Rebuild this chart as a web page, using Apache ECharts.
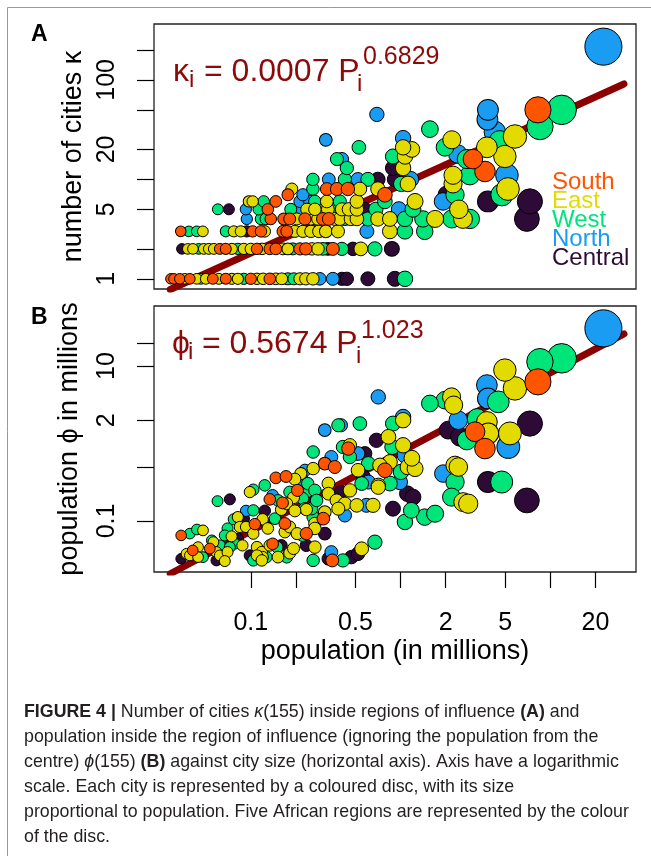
<!DOCTYPE html>
<html>
<head>
<meta charset="UTF-8">
<title>Figure 4</title>
<script type="text/javascript" src="https://cdn.jsdelivr.net/npm/echarts@6.0.0/dist/echarts.min.js"></script>
<style>
  html, body { margin: 0; padding: 0; background: #fff; }
</style>
</head>
<body>
<div id="main" style="width:651px;height:856px"></div>
<script type="text/javascript">
// regions and their colours
var regions = ['South', 'East', 'West', 'North', 'Central'];
var regionColors = ['#ff5500', '#e3da00', '#00e57a', '#1a9cf2', '#2d0b36'];

// panel A : [population in millions, number of cities kappa]
var southA = [[0.0293,1],[0.0307,1],[0.0336,1],[0.0392,1],[0.0558,1],[0.0681,1],[0.100,1],[0.134,1],
  [0.0622,2],[0.0681,2],[0.110,2],[0.134,2],[0.147,2],[0.213,2],[0.233,2],[0.353,2],
  [0.0341,3],[0.103,3],[0.117,3],[0.164,3],[0.174,3],
  [0.136,4],[0.166,4],[0.182,4],[0.230,4],[0.303,4],[0.332,4],
  [0.130,5],[0.147,6],[0.177,7],[0.786,7],
  [0.322,8],[0.376,8],[0.445,8],[3.66,12],[3.04,16],[8.26,50]];
var eastA = [[0.0363,1],[0.0436,1],[0.0501,1],[0.0612,1],[0.0748,1],[0.0820,1],[0.110,1],[0.121,1],[0.147,1],[0.161,1],[0.213,1],[0.233,1],[0.260,1],
  [0.0380,2],[0.0411,2],[0.0486,2],[0.0525,2],[0.0567,2],[0.0748,2],[0.0899,2],[0.100,2],[0.119,2],[0.164,2],[0.177,2],[0.256,2],[0.281,2],[0.543,2],
  [0.0479,3],[0.0771,3],[0.0858,3],[0.124,3],[0.197,3],[0.223,3],[0.252,3],[0.285,3],[0.317,3],[0.382,3],[0.849,3],
  [0.203,4],[0.252,4],[0.281,4],[0.364,4],[0.393,4],[0.466,4],[0.511,4],[0.706,4],[0.849,4],[1.70,4],[2.61,4],
  [0.237,5],[0.268,5],[0.327,5],[0.406,5],[0.452,5],[0.511,5],[2.45,5],
  [0.0971,6],[0.103,6],[0.322,6],[0.511,6],[1.25,6],
  [0.188,8],[0.535,8],[0.706,8],[5.21,8],[2.24,9],[1.12,9],[2.24,11],
  [1.04,13],[1.07,17],[4.97,17],[1.19,20],[1.04,21],[3.77,21],[2.20,25],[5.80,27]];
var westA = [[0.0464,1],[0.0899,1],[0.177,1],[0.194,1],[1.07,1],
  [0.0450,2],[0.0820,2],[0.191,2],[0.303,2],[0.406,2],[0.674,2],
  [0.0386,3],[0.0436,3],[0.0681,3],[1.07,3],[1.45,3],
  [0.117,4],[0.126,4],[0.605,4],[1.07,4],[1.41,4],[2.20,4],[2.90,4],
  [0.0603,5],[0.113,5],[0.185,5],[0.298,5],[0.359,5],[0.684,5],[1.21,5],
  [0.122,6],[0.268,6],[0.393,6],[0.786,6],[2.31,7],[4.75,7],[0.260,8],[1.01,9],
  [0.260,10],[0.425,10],[0.605,10],[2.90,11],[0.438,13],
  [0.376,16],[0.889,17],[2.77,16],[0.527,21],[1.98,21],[4.60,24],[1.57,32],[8.52,34],[11.9,50]];
var northA = [[0.289,1],[0.353,1],[0.596,3],[0.0941,4],[0.425,4],
  [0.0927,5],[0.209,5],[0.975,5],[0.213,6],[0.248,6],[1.92,6],[0.223,7],
  [0.332,10],[0.519,10],[1.17,10],[5.13,11],[0.406,16],[2.41,18],
  [0.317,25],[1.04,26],[4.26,30],[3.80,40],[0.695,45],[3.83,50],[22.6,216]];
var centralA = [[0.406,1],[0.438,1],[0.605,1],[0.916,1],
  [0.0347,2],[0.327,2],[0.481,2],[0.875,2],[0.0941,3],[6.97,4],
  [0.0714,5],[0.578,5],[3.83,6],[7.30,6],[2.04,7],[0.706,10],[0.916,10],[0.889,13]];

// panel B : [population in millions, population phi of the region in millions]
var southB = [[8.26,6.26],[3.14,1.42],[3.66,0.86],[0.786,0.451],
  [0.448,0.86],[0.312,0.55],[0.364,0.497],[0.235,0.0686],[0.305,0.107],[0.35,0.0309],
  [0.147,0.36],[0.172,0.375],[0.205,0.248],[0.134,0.19],[0.163,0.171],
  [0.1065,0.091],[0.169,0.0926],[0.0343,0.065],[0.041,0.0416],[0.0533,0.044],[0.14,0.0506]];
var eastB = [[5.80,5.15],[4.97,8.88],[5.37,1.35],[3.77,1.90],[3.85,1.35],
  [2.19,4.0],[2.26,3.13],[2.31,0.523],[2.43,0.497],[2.62,0.175],[2.83,0.167],
  [1.04,2.00],[0.83,1.22],[1.04,0.949],[0.849,0.577],[0.728,0.523],[1.12,0.497],[1.25,0.474],[0.71,0.288],[0.655,0.159],[1.19,0.645],
  [0.459,0.949],[0.52,0.451],[0.261,0.474],[0.459,0.248],[0.71,0.273],[0.33,0.304],[0.33,0.225],[0.374,0.184],[0.425,0.167],[0.384,0.144],[0.51,0.159],
  [0.268,0.0926],[0.312,0.13],[0.216,0.409],[0.268,0.0459],[0.55,0.0437],
  [0.197,0.346],[0.0986,0.236],[0.193,0.2],[0.235,0.14],[0.16,0.14],[0.174,0.167],[0.197,0.135],
  [0.082,0.112],[0.12,0.105],[0.0845,0.0836],[0.093,0.0836],[0.104,0.0686],[0.13,0.08],[0.169,0.072],[0.182,0.0836],[0.204,0.0686],[0.268,0.08],
  [0.048,0.0755],[0.0745,0.0632],[0.088,0.0483],[0.0563,0.0532],[0.0445,0.0459],[0.059,0.0396],[0.0372,0.0377],[0.0392,0.0358],[0.0445,0.0341],[0.0622,0.0358],[0.07,0.0396],[0.0671,0.0303],
  [0.11,0.0459],[0.1185,0.0396],[0.134,0.0483],[0.152,0.0341],[0.182,0.0385],[0.12,0.0341],[0.193,0.044],[0.11,0.0358],[0.1185,0.0309]];
var westB = [[11.9,12.6],[8.52,11.4],[4.49,3.45],[3.25,2.10],[2.77,1.10],[1.98,3.63],[1.57,3.29],[2.31,0.318],[2.19,0.203],[4.73,0.318],
  [1.45,0.112],[1.70,0.124],[1.07,0.097],[1.18,0.137],[0.674,0.0532],
  [0.89,1.81],[0.88,0.90],[1.005,0.429],[0.849,0.304],
  [0.535,1.81],[0.384,1.72],[0.412,0.902],[0.261,0.777],[0.459,0.67],[0.61,0.55],[0.55,0.304],
  [0.261,0.112],[0.255,0.144],[0.235,0.236],[0.24,0.304],[0.261,0.0309],[0.412,0.0309],
  [0.124,0.288],[0.104,0.253],[0.182,0.236],[0.268,0.248],[0.06,0.18],[0.152,0.184],[0.222,0.195],[0.275,0.184],[0.104,0.137],[0.23,0.144],
  [0.077,0.105],[0.145,0.107],[0.07,0.08],[0.222,0.065],
  [0.0392,0.0686],[0.0437,0.0775],[0.0671,0.065],[0.078,0.051],[0.0622,0.0483],[0.048,0.0341],[0.0725,0.0459],[0.15,0.0459],[0.174,0.0341],[0.127,0.0341],[0.104,0.0309],[0.055,0.056]];
var northB = [[22.6,30.7],[3.77,5.68],[3.83,3.82],[5.24,0.902],[2.43,2.00],[1.93,0.409],
  [0.71,4.0],[1.04,2.20],[1.069,0.705],[0.99,0.318],
  [0.40,1.72],[0.312,1.49],[0.52,0.742],[0.345,0.67],[0.61,0.318],[0.425,0.118],[0.592,0.159],
  [0.222,0.335],[0.23,0.451],[0.345,0.0396],[0.14,0.214],[0.093,0.135]];
var centralB = [[7.30,1.81],[2.08,1.49],[2.49,1.22],[3.83,0.318],[6.97,0.184],
  [0.89,0.144],[1.11,0.225],[1.21,0.203],[0.69,1.10],
  [0.578,0.742],[0.565,0.37],[0.40,0.236],
  [0.312,0.0686],[0.235,0.0483],[0.33,0.0325],[0.47,0.0341],[0.52,0.0377],
  [0.0725,0.19],[0.124,0.135],[0.090,0.107],[0.082,0.0592],[0.0343,0.0325],[0.059,0.0309],[0.16,0.0483],[0.0986,0.0358],[0.0563,0.0459]];

// fitted power laws, end points
var fitA = [[0.029,0.78],[31,91]];
var fitB = [[0.029,0.0208],[31,26]];

// ticks and labels
var xTicks = [0.1,0.2,0.5,1,2,5,10,20];
var xLabels = [0.1,0.5,2,5,20];
var kappaTicks = [1,2,5,10,20,50,100,200];
var kappaLabels = [1,5,20,100];
var phiTicks = [0.1,0.5,2,10,20];
var phiLabels = [0.1,2,10];

var FONT = "'Liberation Sans', Arial, sans-serif";
var RED = '#8b0a0a';

var chart = echarts.init(document.getElementById('main'));

function fmt(v) { return String(parseFloat(Number(v).toPrecision(3))); }
function discSize(d) { return 9.5 + 5.8 * Math.sqrt(d[0]); }

function scatter(name, color, data, idx) {
  return {
    name: name, type: 'scatter', xAxisIndex: idx, yAxisIndex: idx,
    data: data, symbolSize: discSize, z: 3,
    itemStyle: { color: color, borderColor: '#000', borderWidth: 1, opacity: 1 },
    emphasis: { disabled: true }
  };
}
function fitLine(data, idx) {
  return {
    type: 'line', xAxisIndex: idx, yAxisIndex: idx, data: data, symbol: 'none', z: 2,
    lineStyle: { color: '#8b0000', width: 7, cap: 'round' }, silent: true
  };
}
function yAxis(idx, min, max, ticks, labels, name, gap) {
  return {
    gridIndex: idx, type: 'log', min: min, max: max,
    axisLine: { show: false }, splitLine: { show: false },
    axisTick: { show: true, customValues: ticks, length: 17, lineStyle: { color: '#000', width: 1.2 } },
    axisLabel: { customValues: labels, rotate: 90, fontSize: 25, color: '#000', margin: 34, fontFamily: FONT, formatter: fmt },
    name: name, nameLocation: 'middle', nameRotate: 90, nameGap: gap,
    nameTextStyle: { fontSize: 27, color: '#000', fontFamily: FONT }
  };
}

var dataA = [southA, eastA, westA, northA, centralA];
var dataB = [southB, eastB, westB, northB, centralB];
var series = [fitLine(fitA, 0), fitLine(fitB, 1)];
for (var i = regions.length - 1; i >= 0; i--) {
  series.push(scatter(regions[i], regionColors[i], dataA[i], 0));
  series.push(scatter(regions[i], regionColors[i], dataB[i], 1));
}

function txt(x, y, s, size, color, extra) {
  var st = { text: s, x: x, y: y, fill: color, fontSize: size, fontFamily: FONT, verticalAlign: 'middle' };
  for (var k in extra) st[k] = extra[k];
  return { type: 'text', style: st, z: 10 };
}
var CAP = 17.8;
var capRich = {
  b: { fontSize: CAP, fontFamily: FONT, fontWeight: 'bold', color: '#231f20' },
  i: { fontSize: CAP, fontFamily: FONT, fontStyle: 'italic', color: '#231f20' }
};
var captionLines = [
  '{b|FIGURE 4 |} Number of cities {i|κ}(155) inside regions of influence {b|(A)} and',
  'population inside the region of influence (ignoring the population from the',
  'centre) {i|ϕ}(155) {b|(B)} against city size (horizontal axis). Axis have a logarithmic',
  'scale. Each city is represented by a coloured disc, with its size',
  'proportional to population. Five African regions are represented by the colour',
  'of the disc.'
];
var graphics = [
  { type: 'line', shape: { x1: 7.5, y1: 7.5, x2: 651, y2: 7.5 }, style: { stroke: '#9a9a9a', lineWidth: 1 } },
  { type: 'line', shape: { x1: 7.5, y1: 7.5, x2: 7.5, y2: 856 }, style: { stroke: '#9a9a9a', lineWidth: 1 } },
  txt(31, 35, 'A', 23, '#000', { fontWeight: 'bold' }),
  txt(31, 318, 'B', 23, '#000', { fontWeight: 'bold' }),
  // panel A formula
  txt(173, 72, 'κ', 32, RED),
  txt(189, 80, 'i', 24, RED),
  txt(204, 72, '= 0.0007 P', 32, RED),
  txt(357, 84, 'i', 24, RED),
  txt(363, 57, '0.6829', 25, RED),
  // panel B formula
  txt(172, 344, 'ϕ', 32, RED),
  txt(188, 352, 'i', 24, RED),
  txt(202, 344, '= 0.5674 P', 32, RED),
  txt(356, 356, 'i', 24, RED),
  txt(361, 331, '1.023', 25, RED)
];
for (var j = 0; j < captionLines.length; j++) {
  graphics.push({ type: 'text', z: 10, style: { text: captionLines[j], rich: capRich, x: 24, y: 712 + j * 25, verticalAlign: 'middle', fontSize: CAP, fontFamily: FONT, fill: '#231f20' } });
}

var option = {
  animation: false,
  backgroundColor: '#fff',
  grid: [
    { left: 154, top: 24, width: 482, height: 265, show: true, borderColor: '#222', borderWidth: 1.3, backgroundColor: 'transparent' },
    { left: 154, top: 306, width: 482, height: 266, show: true, borderColor: '#222', borderWidth: 1.3, backgroundColor: 'transparent' }
  ],
  legend: {
    orient: 'vertical', left: 542, top: 165, icon: 'none', itemWidth: 0, itemHeight: 0, itemGap: -5,
    selectedMode: false,
    textStyle: { fontSize: 24, lineHeight: 20, fontFamily: FONT },
    data: regions.map(function (r, k) { return { name: r, textStyle: { color: regionColors[k] } }; })
  },
  xAxis: [
    { gridIndex: 0, type: 'log', min: 0.0226, max: 37.3, show: false },
    {
      gridIndex: 1, type: 'log', min: 0.0226, max: 37.3,
      axisLine: { show: false }, splitLine: { show: false },
      axisTick: { show: true, customValues: xTicks, length: 16, lineStyle: { color: '#000', width: 1.2 } },
      axisLabel: { customValues: xLabels, fontSize: 25, color: '#000', margin: 39, fontFamily: FONT, formatter: fmt },
      name: 'population (in millions)', nameLocation: 'middle', nameGap: 66,
      nameTextStyle: { fontSize: 27, color: '#000', fontFamily: FONT }
    }
  ],
  yAxis: [
    yAxis(0, 0.79, 365, kappaTicks, kappaLabels, 'number of cities κ', 65),
    yAxis(1, 0.0219, 59.7, phiTicks, phiLabels, 'population ϕ in millions', 71)
  ],
  graphic: graphics,
  series: series
};
chart.setOption(option);
</script>
</body>
</html>
